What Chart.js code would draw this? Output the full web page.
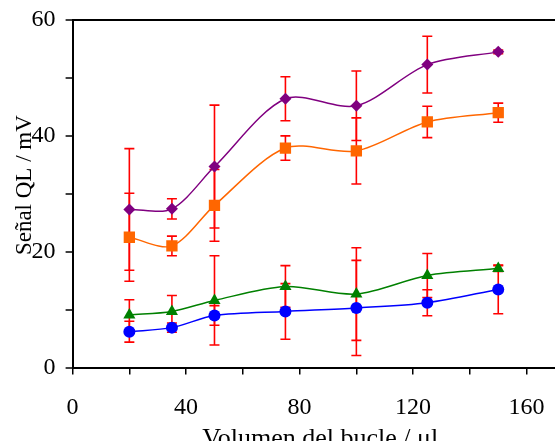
<!DOCTYPE html>
<html>
<head>
<meta charset="utf-8">
<script src="https://cdn.jsdelivr.net/npm/chart.js@4/dist/chart.umd.min.js"></script>
<style>
  html, body { margin: 0; padding: 0; background: #fff; overflow: hidden; }
  /* slightly wider than the window: the x axis runs off the right edge like the original */
  #wrap { width: 563px; height: 452px; }
</style>
</head>
<body>
<div id="wrap"><canvas id="bucleChart"></canvas></div>
<script>
// ── DATA ──
const volumen = [20, 35, 50, 75, 100, 125, 150];

const morado     = [27.3, 27.4, 34.7, 46.4, 45.2, 52.3, 54.5];
const moradoErr  = [10.5, 1.75, 10.6, 3.8, 6.0, 4.9, 0.3];

const naranja    = [22.5, 21.0, 28.0, 37.9, 37.4, 42.4, 44.0];
const naranjaErr = [7.6, 1.7, 6.2, 2.1, 5.7, 2.7, 1.65];

const verde      = [9.1, 9.7, 11.6, 14.0, 12.7, 15.9, 17.1];
const verdeErr   = [2.6, 2.75, 7.7, 3.6, 8.0, 3.8, 0.5];

const azul       = [6.2, 6.9, 9.0, 9.7, 10.3, 11.2, 13.5];
const azulErr    = [1.8, 0.8, 1.7, 4.8, 8.2, 2.25, 4.2];

const xTicks = [0, 40, 80, 120, 160];
const yTicks = [0, 20, 40, 60];

const FONT = '"Liberation Serif", "Times New Roman", serif';

// ── HELPERS ──
function puntos(valores) {
  return volumen.map((v, i) => ({ x: v, y: valores[i] }));
}

function serie(valores, errores, color, estilo, radio) {
  return {
    data: puntos(valores),
    errores,
    borderColor: color,
    backgroundColor: color,
    borderWidth: 1.5,
    tension: 0.3,
    pointStyle: estilo,
    pointRadius: radio,
    pointBorderWidth: 0,
    pointBackgroundColor: color,
  };
}

// ── ERROR BARS (drawn under the markers) ──
const errorBars = {
  id: 'errorBars',
  beforeDatasetsDraw(chart) {
    const { ctx, scales: { x, y } } = chart;
    ctx.save();
    ctx.strokeStyle = '#FF0000';
    ctx.lineWidth = 1.6;
    chart.data.datasets.forEach(ds => {
      ds.errores.forEach((e, i) => {
        if (!e) return;
        const px  = x.getPixelForValue(ds.data[i].x);
        const top = y.getPixelForValue(ds.data[i].y + e);
        const bot = y.getPixelForValue(ds.data[i].y - e);
        ctx.beginPath();
        ctx.moveTo(px, top);     ctx.lineTo(px, bot);
        ctx.moveTo(px - 5, top); ctx.lineTo(px + 5, top);
        ctx.moveTo(px - 5, bot); ctx.lineTo(px + 5, bot);
        ctx.stroke();
      });
    });
    ctx.restore();
  }
};

// ── CHART ──
function dibujar() {
  const ctx = document.getElementById('bucleChart').getContext('2d');

  new Chart(ctx, {
    type: 'line',
    data: {
      datasets: [
        serie(morado,  moradoErr,  '#800080', 'rectRot',  6),
        serie(naranja, naranjaErr, '#FF6600', 'rect',     8),
        serie(verde,   verdeErr,   '#008000', 'triangle', 7),
        serie(azul,    azulErr,    '#0000FF', 'circle',   6),
      ]
    },
    plugins: [errorBars],
    options: {
      responsive: true,
      maintainAspectRatio: false,
      animation: false,
      layout: { padding: { top: 20, right: 0, left: 0, bottom: 0 } },
      plugins: { legend: { display: false }, tooltip: { enabled: false } },
      scales: {
        x: {
          type: 'linear',
          min: 0,
          max: 170,
          afterFit: s => { s.paddingLeft = 0; s.paddingRight = 0; },
          border: { display: true, color: '#000', width: 2 },
          grid: { drawOnChartArea: false, color: '#000', tickLength: 7, lineWidth: 1.5 },
          ticks: {
            stepSize: 20,
            includeBounds: false,
            autoSkip: false,
            maxRotation: 0,
            padding: 0,
            color: '#000',
            font: { family: FONT, size: 24, lineHeight: 2.8 },
            callback: v => xTicks.includes(v) ? v : ''
          },
          title: {
            display: true,
            text: '\u00a0\u00a0Volumen del bucle / \u03bcl',
            color: '#000',
            font: { family: FONT, size: 26 },
            padding: { top: -18, bottom: -3 }
          }
        },
        y: {
          min: 0,
          max: 60,
          afterFit: s => { s.paddingTop = 0; s.paddingBottom = 0; },
          border: { display: true, color: '#000', width: 2 },
          grid: {
            color: c => c.tick && c.tick.value === 60 ? '#000' : 'rgba(0,0,0,0)',
            tickColor: '#000',
            tickLength: 7,
            lineWidth: 2,
            tickWidth: 1.5
          },
          ticks: {
            stepSize: 10,
            padding: 10,
            color: '#000',
            font: { family: FONT, size: 24 },
            callback: v => yTicks.includes(v) ? v : ''
          },
          title: {
            display: true,
            text: '\u00a0\u00a0\u00a0Señal QL / mV',
            color: '#000',
            font: { family: FONT, size: 23 },
            padding: { top: 11, bottom: -17 }
          }
        }
      }
    }
  });
}

if (document.fonts && document.fonts.load) {
  document.fonts.load('24px "Liberation Serif"').then(dibujar, dibujar);
} else {
  dibujar();
}
</script>
</body>
</html>
